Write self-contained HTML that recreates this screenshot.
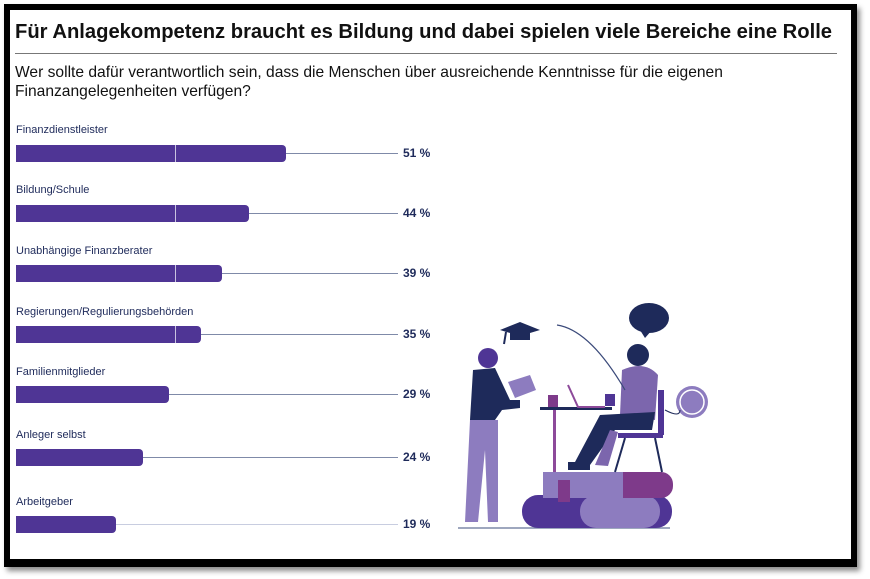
<!DOCTYPE html>
<html><head><meta charset="utf-8"><style>
body{margin:0;width:870px;height:579px;background:#fff;position:relative;overflow:hidden;font-family:"Liberation Sans",sans-serif}
.frame{position:absolute;left:4px;top:4px;width:841px;height:549px;border:6px solid #000;border-bottom-width:8px;background:#fff;box-shadow:3px 4px 5px rgba(0,0,0,.45)}
.t{position:absolute;left:15px;top:21px;font-size:20.2px;font-weight:bold;color:#111;white-space:nowrap}
.hr{position:absolute;left:15px;top:53px;width:822px;height:1px;background:#777}
.s{position:absolute;left:15px;top:63px;font-size:15.6px;line-height:19px;color:#111;width:830px}
.l{position:absolute;left:16px;font-size:11px;color:#1e2a5a}
.b{position:absolute;left:16px;height:17px;background:#4f3595;border-radius:0 4px 4px 0}
.d{position:absolute;left:175px;width:1px;height:17px;background:#c9c3e0}
.ln{position:absolute;height:1px;background:#7f8aa8}
.v{position:absolute;left:403px;font-size:12px;font-weight:bold;color:#1e2a5a}
</style></head><body>
<div class="frame"></div>
<div class="t">Für Anlagekompetenz braucht es Bildung und dabei spielen viele Bereiche eine Rolle</div>
<div class="hr"></div>
<div class="s">Wer sollte dafür verantwortlich sein, dass die Menschen über ausreichende Kenntnisse für die eigenen Finanzangelegenheiten verfügen?</div>

<div class="l" style="top:124px">Finanzdienstleister</div><div class="ln" style="top:153px;left:286px;width:112px"></div><div class="b" style="top:145px;width:270px"></div><div class="d" style="top:145px"></div><div class="v" style="top:146px">51 %</div>
<div class="l" style="top:184px">Bildung/Schule</div><div class="ln" style="top:213px;left:249px;width:149px"></div><div class="b" style="top:205px;width:233px"></div><div class="d" style="top:205px"></div><div class="v" style="top:206px">44 %</div>
<div class="l" style="top:245px">Unabhängige Finanzberater</div><div class="ln" style="top:273px;left:222px;width:176px"></div><div class="b" style="top:265px;width:206px"></div><div class="d" style="top:265px"></div><div class="v" style="top:266px">39 %</div>
<div class="l" style="top:306px">Regierungen/Regulierungsbehörden</div><div class="ln" style="top:334px;left:201px;width:197px"></div><div class="b" style="top:326px;width:185px"></div><div class="d" style="top:326px"></div><div class="v" style="top:327px">35 %</div>
<div class="l" style="top:366px">Familienmitglieder</div><div class="ln" style="top:394px;left:169px;width:229px"></div><div class="b" style="top:386px;width:153px"></div><div class="v" style="top:387px">29 %</div>
<div class="l" style="top:429px">Anleger selbst</div><div class="ln" style="top:457px;left:143px;width:255px"></div><div class="b" style="top:449px;width:127px"></div><div class="v" style="top:450px">24 %</div>
<div class="l" style="top:496px">Arbeitgeber</div><div class="ln" style="top:524px;left:116px;width:282px;background:#c8cde0"></div><div class="b" style="top:516px;width:100px"></div><div class="v" style="top:517px">19 %</div>

<svg style="position:absolute;left:440px;top:290px" width="300" height="250" viewBox="0 0 300 250">
<line x1="18" y1="238" x2="230" y2="238" stroke="#7f8aa8" stroke-width="1.5"/>
<rect x="82" y="205" width="150" height="33" rx="16" fill="#4f3595"/>
<rect x="140" y="205" width="80" height="33" rx="16" fill="#8d7cbf"/>
<rect x="103" y="182" width="130" height="26" rx="12" fill="#7e3a8a"/>
<rect x="103" y="182" width="80" height="26" fill="#8d7cbf"/>
<rect x="118" y="190" width="12" height="22" fill="#7e3a8a"/>
<rect x="100" y="117" width="72" height="3" fill="#1e2a5a"/>
<rect x="113" y="120" width="3" height="62" fill="#8d4a9a"/>
<rect x="108" y="105" width="10" height="12" fill="#7e3a8a"/>
<path d="M128 95 L138 117 L165 117" stroke="#8d4a9a" stroke-width="2" fill="none"/>
<rect x="165" y="104" width="10" height="12" fill="#4f3595"/>
<rect x="178" y="143" width="45" height="5" fill="#4f3595"/>
<rect x="218" y="100" width="6" height="45" fill="#4f3595"/>
<line x1="185" y1="148" x2="175" y2="182" stroke="#1e2a5a" stroke-width="2"/>
<line x1="215" y1="148" x2="222" y2="182" stroke="#1e2a5a" stroke-width="2"/>
<circle cx="198" cy="65" r="11" fill="#1e2a5a"/>
<path d="M182 80 Q205 70 218 85 L215 130 L180 125 Z" fill="#7c66ad"/>
<path d="M160 125 L215 122 L212 140 L175 140 L150 175 L135 172 Z" fill="#1e2a5a"/>
<path d="M170 140 L155 175 L168 176 L178 142 Z" fill="#7c66ad"/>
<rect x="128" y="172" width="22" height="8" fill="#1e2a5a"/>
<circle cx="252" cy="112" r="16" fill="#8d7cbf"/><circle cx="252" cy="112" r="12" fill="none" stroke="#fff" stroke-width="1.5"/>
<path d="M225 120 Q240 128 240 120" stroke="#1e2a5a" fill="none"/>
<ellipse cx="209" cy="28" rx="20" ry="15" fill="#1e2a5a"/><path d="M200 40 L205 48 L212 40Z" fill="#1e2a5a"/>
<path d="M185 100 Q150 40 117 35" stroke="#3b4a7a" fill="none" stroke-width="1.2"/>
<path d="M60 40 L80 32 L100 40 L80 46Z" fill="#1e2a5a"/><rect x="70" y="42" width="20" height="8" fill="#1e2a5a"/><line x1="66" y1="42" x2="64" y2="54" stroke="#1e2a5a" stroke-width="2"/>
<circle cx="48" cy="68" r="10" fill="#4f3595"/>
<path d="M33 80 L55 78 L70 110 L80 110 L80 118 L62 120 L55 130 L30 130 Z" fill="#1e2a5a"/>
<path d="M30 130 L58 130 L58 232 L48 232 L45 160 L38 232 L25 232 Z" fill="#8d7cbf"/>
<path d="M68 92 L90 85 L96 100 L75 108Z" fill="#8d7cbf"/>
</svg>
</body></html>
